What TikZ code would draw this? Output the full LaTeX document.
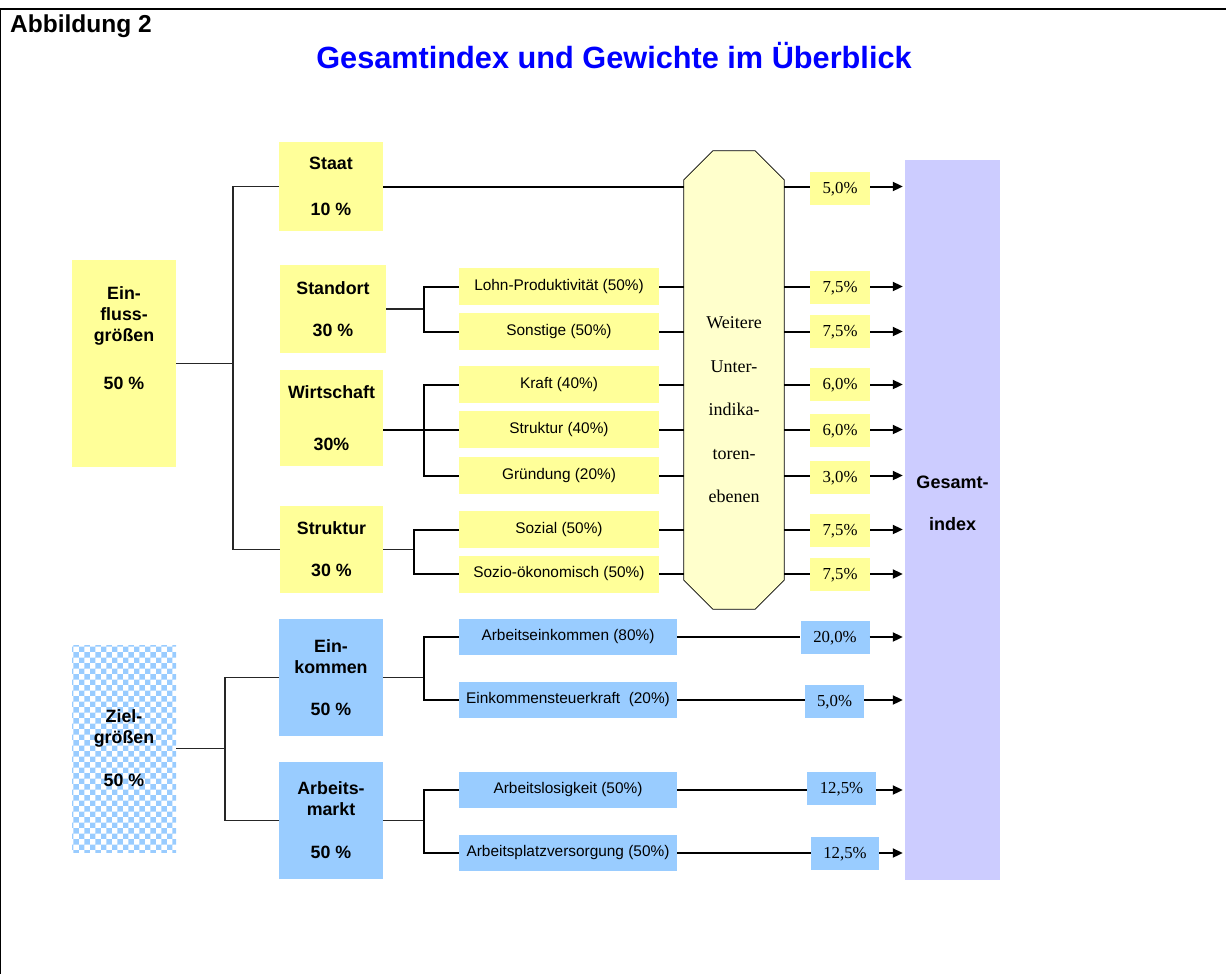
\documentclass[tikz,border=0pt]{standalone}
\usepackage{fontspec}
\setmainfont{Liberation Serif}
\setsansfont{Liberation Sans}
\usetikzlibrary{arrows.meta,patterns}

\definecolor{gelb}{RGB}{255,255,153}
\definecolor{hellgelb}{RGB}{255,255,204}
\definecolor{blau}{RGB}{153,204,255}
\definecolor{lila}{RGB}{204,204,255}
\definecolor{titelblau}{RGB}{0,0,255}

\begin{document}
\begin{tikzpicture}[x=1pt,y=-1pt,
  hauptbox/.style={inner sep=0pt, align=center, font=\sffamily\bfseries\fontsize{17.8}{21}\selectfont},
  gelbbox/.style={hauptbox, fill=gelb},
  blaubox/.style={hauptbox, fill=blau},
  unterbox/.style={inner sep=0pt, font=\sffamily\fontsize{15.4}{18}\selectfont},
  gelbunter/.style={unterbox, fill=gelb, minimum width=200pt, minimum height=37pt},
  blauunter/.style={unterbox, fill=blau, minimum width=218pt, minimum height=36pt},
  prozbox/.style={inner sep=0pt, minimum height=33pt, text depth=1pt, font=\fontsize{16.8}{18}\selectfont},
  ast/.style={line width=2pt},
  stamm/.style={line width=1.2pt, black!85},
  pfeil/.style={line width=2pt, shorten >=2pt, -{Triangle[length=10pt,width=9pt]}}]
\useasboundingbox (0,0) rectangle (1226,974);
\draw[line width=2.5pt] (0,9) -- (1226,9);
\draw[line width=1.2pt] (0.8,9) -- (0.8,974);

\node[anchor=base west, inner sep=0pt, font=\sffamily\bfseries\fontsize{24.5}{28}\selectfont] (abb) at (10,33) {Abbildung 2};
\node[anchor=base, inner sep=0pt, text=titelblau, font=\sffamily\bfseries\fontsize{30.7}{36}\selectfont] (titel) at (614,68) {Gesamtindex und Gewichte im Überblick};

% Einflussgroessen
\node[gelbbox, minimum width=104pt, minimum height=207pt] (einfluss) at (124,363.5) {};
\node[hauptbox] (einflusstext) at (124,338) {Ein-\\fluss-\\größen\\[27pt]50 \%};
\node[gelbbox, minimum width=104pt, minimum height=89pt] (staat) at (331,186.5) {Staat\\[25pt]10 \%};
\node[gelbbox, minimum width=106pt, minimum height=88pt] (standort) at (333,309) {Standort\\[21pt]30 \%};
\node[gelbbox, minimum width=103pt, minimum height=96pt] (wirtschaft) at (331.5,418) {Wirtschaft\\[31pt]30\%};
\node[gelbbox, minimum width=103pt, minimum height=87pt] (struktur) at (331.5,549.5) {Struktur\\[21pt]30 \%};

\node[gelbunter] (lohn) at (559,286.5) {Lohn-Produktivität (50\%)};
\node[gelbunter] (sonstige) at (559,331.5) {Sonstige (50\%)};
\node[gelbunter] (kraft) at (559,384.5) {Kraft (40\%)};
\node[gelbunter] (struk40) at (559,429.5) {Struktur (40\%)};
\node[gelbunter] (gruendung) at (559,475.5) {Gründung (20\%)};
\node[gelbunter] (sozial) at (559,529.5) {Sozial (50\%)};
\node[gelbunter] (sozio) at (559,574) {Sozio-ökonomisch (50\%)};

\coordinate (einknoten) at (233,363.5);
\draw[stamm] (einfluss.east) -- (einknoten);
\draw[stamm] (staat.west) -| (einknoten) |- (struktur.west);

\coordinate (standknoten) at (424,309);
\draw[stamm] (standort.east) -- (standknoten);
\draw[ast] (lohn.west) -| (standknoten) |- (sonstige.west);
\coordinate (wknoten) at (424,429.5);
\draw[ast] (wirtschaft.east |- wknoten) -- (struk40.west);
\draw[ast] (kraft.west) -| (wknoten) |- (gruendung.west);
\coordinate (sknoten) at (414,549.5);
\draw[stamm] (struktur.east) -- (sknoten);
\draw[ast] (sozial.west) -| (sknoten) |- (sozio.west);

% Unterindikatoren (Achteck)
\node[minimum width=100pt, minimum height=458pt, inner sep=0pt] (weitere) at (734,380) {};
\filldraw[fill=hellgelb, line width=0.8pt] ([yshift=-29pt]weitere.north west) -- ([xshift=29pt]weitere.north west)
  -- ([xshift=-29pt]weitere.north east) -- ([yshift=-29pt]weitere.north east)
  -- ([yshift=29pt]weitere.south east) -- ([xshift=-29pt]weitere.south east)
  -- ([xshift=29pt]weitere.south west) -- ([yshift=29pt]weitere.south west) -- cycle;
\node[align=center, font=\fontsize{18}{43.5}\selectfont] (weiteretext) at (734,410) {Weitere\\Unter-\\indika-\\toren-\\ebenen};

\draw[ast] (staat.east) -- (staat.east -| weitere.west);
\draw[ast] (lohn.east) -- (lohn.east -| weitere.west);
\draw[ast] (sonstige.east) -- (sonstige.east -| weitere.west);
\draw[ast] (kraft.east) -- (kraft.east -| weitere.west);
\draw[ast] (struk40.east) -- (struk40.east -| weitere.west);
\draw[ast] (gruendung.east) -- (gruendung.east -| weitere.west);
\draw[ast] (sozial.east) -- (sozial.east -| weitere.west);
\draw[ast] (sozio.east) -- (sozio.east -| weitere.west);

% Gesamtindex
\node[fill=lila, minimum width=95pt, minimum height=720pt, inner sep=0pt] (gesamt) at (952.5,520) {};
\node[hauptbox, font=\sffamily\bfseries\fontsize{18}{42}\selectfont] (gesamttext) at (952.5,503) {Gesamt-\\index};

\node[prozbox, fill=gelb, minimum width=60pt] (p1) at (840,188.5) {5,0\%};
\node[prozbox, fill=gelb, minimum width=60pt] (p2) at (840,287) {7,5\%};
\node[prozbox, fill=gelb, minimum width=60pt] (p3) at (840,331) {7,5\%};
\node[prozbox, fill=gelb, minimum width=60pt] (p4) at (840,384) {6,0\%};
\node[prozbox, fill=gelb, minimum width=60pt] (p5) at (840,430) {6,0\%};
\node[prozbox, fill=gelb, minimum width=60pt] (p6) at (840,477) {3,0\%};
\node[prozbox, fill=gelb, minimum width=60pt] (p7) at (840,530) {7,5\%};
\node[prozbox, fill=gelb, minimum width=60pt] (p8) at (840,574) {7,5\%};

\draw[ast] (staat.east -| weitere.east) -- (staat.east -| p1.west);
\draw[ast] (lohn.east -| weitere.east) -- (lohn.east -| p2.west);
\draw[ast] (sonstige.east -| weitere.east) -- (sonstige.east -| p3.west);
\draw[ast] (kraft.east -| weitere.east) -- (kraft.east -| p4.west);
\draw[ast] (struk40.east -| weitere.east) -- (struk40.east -| p5.west);
\draw[ast] (gruendung.east -| weitere.east) -- (gruendung.east -| p6.west);
\draw[ast] (sozial.east -| weitere.east) -- (sozial.east -| p7.west);
\draw[ast] (sozio.east -| weitere.east) -- (sozio.east -| p8.west);

\draw[pfeil] (staat.east -| p1.east) -- (staat.east -| gesamt.west);
\draw[pfeil] (lohn.east -| p2.east) -- (lohn.east -| gesamt.west);
\draw[pfeil] (sonstige.east -| p3.east) -- (sonstige.east -| gesamt.west);
\draw[pfeil] (kraft.east -| p4.east) -- (kraft.east -| gesamt.west);
\draw[pfeil] (struk40.east -| p5.east) -- (struk40.east -| gesamt.west);
\draw[pfeil] (gruendung.east -| p6.east) -- (gruendung.east -| gesamt.west);
\draw[pfeil] (sozial.east -| p7.east) -- (sozial.east -| gesamt.west);
\draw[pfeil] (sozio.east -| p8.east) -- (sozio.east -| gesamt.west);

% Zielgroessen
\node[hauptbox, pattern=checkerboard, pattern color=blau, minimum width=104pt, minimum height=207pt] (ziel) at (124,748.5) {Ziel-\\größen\\[22pt]50 \%};
\node[blaubox, minimum width=104pt, minimum height=117pt] (einkommen) at (331,677.5) {Ein-\\kommen\\[21pt]50 \%};
\node[blaubox, minimum width=104pt, minimum height=117pt] (arbeitsmarkt) at (331,820.5) {Arbeits-\\markt\\[22pt]50 \%};

\node[blauunter] (arbeitseink) at (568,637) {Arbeitseinkommen (80\%)};
\node[blauunter] (steuerkraft) at (568,700) {Einkommensteuerkraft~ (20\%)};
\node[blauunter] (arbeitslos) at (568,790) {Arbeitslosigkeit (50\%)};
\node[blauunter] (platz) at (568,853) {Arbeitsplatzversorgung (50\%)};

\coordinate (zielknoten) at (225,748.5);
\draw[stamm] (ziel.east) -- (zielknoten);
\draw[stamm] (einkommen.west) -| (zielknoten) |- (arbeitsmarkt.west);
\coordinate (ekknoten) at (424,677.5);
\draw[stamm] (einkommen.east) -- (ekknoten);
\draw[ast] (arbeitseink.west) -| (ekknoten) |- (steuerkraft.west);
\coordinate (amknoten) at (424,820.5);
\draw[stamm] (arbeitsmarkt.east) -- (amknoten);
\draw[ast] (arbeitslos.west) -| (amknoten) |- (platz.west);

\node[prozbox, fill=blau, minimum width=69pt] (q1) at (835,637) {20,0\%};
\node[prozbox, fill=blau, minimum width=59pt] (q2) at (834.5,701.5) {5,0\%};
\node[prozbox, fill=blau, minimum width=69pt] (q3) at (841.5,788.5) {12,5\%};
\node[prozbox, fill=blau, minimum width=68pt] (q4) at (845,853.5) {12,5\%};

\draw[ast] (arbeitseink.east) -- (arbeitseink.east -| q1.west);
\draw[ast] (steuerkraft.east) -- (steuerkraft.east -| q2.west);
\draw[ast] (arbeitslos.east) -- (arbeitslos.east -| q3.west);
\draw[ast] (platz.east) -- (platz.east -| q4.west);
\draw[pfeil] (arbeitseink.east -| q1.east) -- (arbeitseink.east -| gesamt.west);
\draw[pfeil] (steuerkraft.east -| q2.east) -- (steuerkraft.east -| gesamt.west);
\draw[pfeil] (arbeitslos.east -| q3.east) -- (arbeitslos.east -| gesamt.west);
\draw[pfeil] (platz.east -| q4.east) -- (platz.east -| gesamt.west);
\end{tikzpicture}
\end{document}
